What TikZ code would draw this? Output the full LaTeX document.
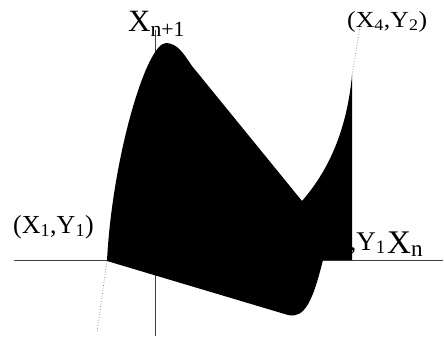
\documentclass[tikz,border=0pt]{standalone}
\usepackage{fontspec}
\usepackage{graphicx}
\setmainfont{Liberation Serif}
\tikzset{
  axisline/.style={draw=black!75, line width=0.9pt},
  guide/.style={draw=black!55, line width=0.7pt, dotted},
  lbl/.style={inner sep=0pt, text=black},
}
\newcommand{\fsz}[1]{\fontsize{#1}{#1}\selectfont}
\begin{document}
\begin{tikzpicture}[x=1pt,y=-1pt]
\useasboundingbox (0,0) rectangle (444,338);
% axes
\draw[axisline] (14,260) coordinate (axL) -- (443,260) coordinate (axR);
\draw[axisline] (155,30) coordinate (vT) -- (155,336) coordinate (vB);
% hidden label behind shape
\node[lbl, anchor=base east] (lx3) at (386,250) {\fsz{27}(X\textsubscript{3},Y\textsubscript{1}};
% filled shape
\coordinate (A) at (107,261);
\coordinate (P) at (166,43);
\coordinate (V) at (302,201);
\coordinate (R) at (352,75);
\fill[black] (A) .. controls (112,160) and (146,43) .. (P)
  .. controls (178,43) and (185,56) .. (192,66)
  -- (V)
  .. controls (322,178) and (346,140) .. (R)
  -- (352,260) -- (323,260)
  .. controls (313,300) and (305,319) .. (288,315)
  -- cycle;
% dotted guides
\coordinate (dA) at (97,332);
\coordinate (dR) at (360,27);
\draw[guide] (A) -- (dA);
\draw[guide] (R) -- (dR);
% labels
\node[lbl, anchor=base west] (lxn1) at (128,31) {\fsz{31}X\textsubscript{n+1}};
\node[lbl, anchor=base west] (lx4) at (347,27) {\scalebox{1.12}[1]{\fsz{23}(X\textsubscript{4},Y\textsubscript{2})}};
\node[lbl, anchor=base west] (lx1) at (13,233) {\fsz{26}(X\textsubscript{1},Y\textsubscript{1})};
\node[lbl, anchor=base west] (lxn) at (387,253) {\fsz{33}X\textsubscript{n}};
\end{tikzpicture}
\end{document}
